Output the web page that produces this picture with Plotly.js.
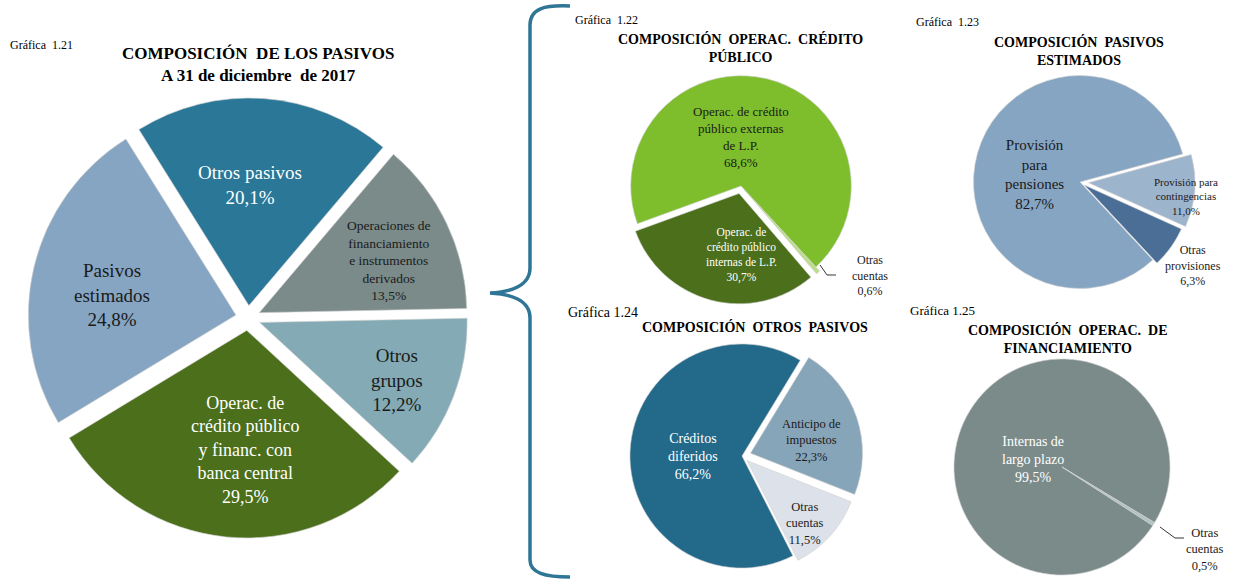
<!DOCTYPE html>
<html><head><meta charset="utf-8">
<script src="https://cdn.plot.ly/plotly-3.0.1.min.js"></script>
<style>html,body{margin:0;padding:0;background:#fff}#chart{width:1235px;height:581px}</style>
</head><body><div id="chart"></div>
<script>
// ---------- DATA ----------
const c21Labels = ["Otros pasivos", "Operaciones de<br>financiamiento<br>e instrumentos<br>derivados", "Otros<br>grupos", "Operac. de<br>crédito público<br>y financ. con<br>banca central", "Pasivos<br>estimados"];
const c21Values = [20.1, 13.5, 12.2, 29.5, 24.8];

const c22Labels = ["Operac. de crédito<br>público externas<br>de L.P.", "Otras<br>cuentas", "Operac. de<br>crédito público<br>internas de L.P."];
const c22Values = [68.6, 0.6, 30.7];

const c23Labels = ["Provisión<br>para<br>pensiones", "Provisión para<br>contingencias", "Otras<br>provisiones"];
const c23Values = [82.7, 11.0, 6.3];

const c24Labels = ["Créditos<br>diferidos", "Anticipo de<br>impuestos", "Otras<br>cuentas"];
const c24Values = [66.2, 22.3, 11.5];

const c25Labels = ["Internas de<br>largo plazo", "Otras<br>cuentas"];
const c25Values = [99.5, 0.5];

// ---------- LAYOUT HELPERS ----------
const W = 1235, H = 581;
const px = x => x / W, py = y => 1 - y / H;
const dom = (x0, y0, x1, y1) => ({x: [px(x0), px(x1)], y: [py(y1), py(y0)]});
const pct = v => v.toFixed(1).replace('.', ',') + '%';
const FONT = "'Liberation Serif', serif";

function pie(labels, values, colors, pulls, rotation, domain) {
  return {type: 'pie', labels: labels.map(l => l.replace(/<br>/g, ' ')), values, sort: false,
    direction: 'clockwise', rotation, pull: pulls, textinfo: 'none', hoverinfo: 'label+percent',
    marker: {colors, line: {color: '#d0d0d0', width: 0.6}}, domain, showlegend: false};
}

const traces = [
  pie(c21Labels, c21Values, ['#2A7798', '#7A8B8A', '#84ABB5', '#4B6F1B', '#85A5C2'],
      [0.06, 0.06, 0.06, 0.06, 0.06], -32, dom(28, 98, 468, 538)),
  pie(c22Labels, c22Values, ['#7EBE2C', '#BEDC90', '#4B6F1B'],
      [0, 0.05, 0.07], -110, dom(623, 68, 859, 304)),
  pie(c23Labels, c23Values, ['#86A5C2', '#9DB4CD', '#4A6E96'],
      [0, 0.08, 0.05], 137, dom(965, 67, 1195, 297)),
  pie(c24Labels, c24Values, ['#236A8A', '#87A5B8', '#DDE2EA'],
      [0, 0.08, 0.06], 153, dom(621, 335, 863, 577)),
  pie(c25Labels, c25Values, ['#7B8B8A', '#B2C2C3'],
      [0, 0], 122.8, dom(954, 359, 1170, 575))
];

// ---------- ANNOTATIONS ----------
const ann = [];
function txt(x, y, text, size, color, extra) {
  ann.push(Object.assign({xref: 'paper', yref: 'paper', x: px(x), y: py(y), text, showarrow: false,
    xanchor: 'center', yanchor: 'middle', font: {family: FONT, size, color}}, extra || {}));
}
function slab(x, y, labels, values, i, size, color) {
  txt(x, y, labels[i] + '<br>' + pct(values[i]), size, color);
}
// headers
txt(8, 45, 'Gráfica  1.21', 12, '#000', {xanchor: 'left'});
txt(258, 65, '<b>COMPOSICIÓN  DE LOS PASIVOS<br>A 31 de diciembre  de 2017</b>', 17, '#000');
txt(573, 20, 'Gráfica  1.22', 12, '#000', {xanchor: 'left'});
txt(740, 48, '<b>COMPOSICIÓN  OPERAC.  CRÉDITO<br>PÚBLICO</b>', 14, '#000');
txt(914, 22, 'Gráfica  1.23', 12, '#000', {xanchor: 'left'});
txt(1079, 51, '<b>COMPOSICIÓN  PASIVOS<br>ESTIMADOS</b>', 14, '#000');
txt(566, 312, 'Gráfica 1.24', 14, '#000', {xanchor: 'left'});
txt(755, 327, '<b>COMPOSICIÓN  OTROS  PASIVOS</b>', 14, '#000');
txt(908, 310, 'Gráfica 1.25', 13, '#000', {xanchor: 'left'});
txt(1068, 339, '<b>COMPOSICIÓN  OPERAC.  DE<br>FINANCIAMIENTO</b>', 14, '#000');

// chart 1.21 labels
slab(250, 185, c21Labels, c21Values, 0, 19, '#ffffff');
slab(389, 261, c21Labels, c21Values, 1, 13.5, '#1a1a1a');
slab(397, 380, c21Labels, c21Values, 2, 19, '#1a1a1a');
slab(245, 450, c21Labels, c21Values, 3, 18, '#ffffff');
slab(112, 295, c21Labels, c21Values, 4, 19, '#1a1a1a');
// chart 1.22
slab(741, 137, c22Labels, c22Values, 0, 13, '#1a1a1a');
slab(870, 275, c22Labels, c22Values, 1, 12, '#1a1a1a');
slab(741, 255, c22Labels, c22Values, 2, 11.5, '#ffffff');
// chart 1.23
slab(1034, 174, c23Labels, c23Values, 0, 15, '#1a1a1a');
slab(1186, 196, c23Labels, c23Values, 1, 11, '#1a1a1a');
slab(1193, 265, c23Labels, c23Values, 2, 12, '#1a1a1a');
// chart 1.24
slab(693, 456, c24Labels, c24Values, 0, 14, '#ffffff');
slab(811, 440, c24Labels, c24Values, 1, 12.5, '#1a1a1a');
slab(805, 523, c24Labels, c24Values, 2, 12.5, '#1a1a1a');
// chart 1.25
slab(1033, 459, c25Labels, c25Values, 0, 14, '#ffffff');
slab(1205, 549, c25Labels, c25Values, 1, 12.5, '#1a1a1a');

// ---------- SHAPES ----------
function path(cmds) {
  return cmds.map(c => typeof c === 'string' ? c : px(c[0]).toFixed(5) + ',' + py(c[1]).toFixed(5)).join(' ');
}
const shapes = [
  {type: 'path', xref: 'paper', yref: 'paper', line: {color: '#2E7596', width: 3.5},
   path: path(['M', [570, 6], 'C', [545, 5], [530, 8], [530, 25], 'L', [530, 268], 'C', [530, 286], [510, 292], [490, 293],
               'C', [510, 294], [530, 300], [530, 318], 'L', [530, 560], 'C', [530, 573], [545, 577], [570, 577]])},
  {type: 'path', xref: 'paper', yref: 'paper', line: {color: '#000', width: 0.8},
   path: path(['M', [820, 265], 'L', [827, 275], 'L', [836, 275]])},
  {type: 'path', xref: 'paper', yref: 'paper', line: {color: '#000', width: 0.8},
   path: path(['M', [1160, 527], 'L', [1175, 538], 'L', [1184, 538]])}
];

Plotly.newPlot('chart', traces, {
  width: W, height: H, margin: {l: 0, r: 0, t: 0, b: 0},
  paper_bgcolor: '#fff', plot_bgcolor: '#fff',
  font: {family: FONT}, annotations: ann, shapes
}, {displayModeBar: false, staticPlot: true});
</script></body></html>
